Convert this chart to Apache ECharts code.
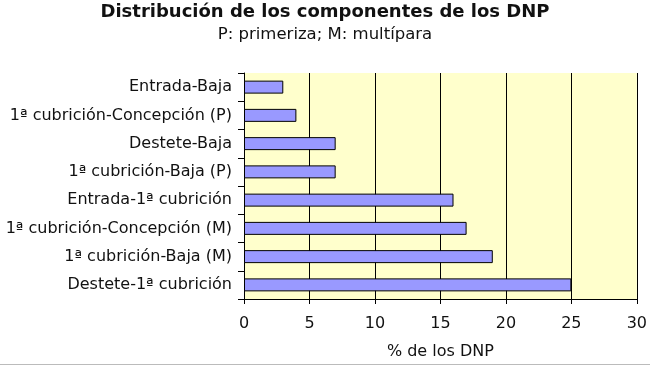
<!DOCTYPE html>
<html><head><meta charset="utf-8">
<script src="https://cdn.jsdelivr.net/npm/echarts@6/dist/echarts.min.js"></script>
<style>html,body{margin:0;padding:0;background:#fff}#c{width:650px;height:366px}</style>
</head><body><div id="c"></div>
<script>
var categories = ["Destete-1ª cubrición","1ª cubrición-Baja (M)","1ª cubrición-Concepción (M)","Entrada-1ª cubrición","1ª cubrición-Baja (P)","Destete-Baja","1ª cubrición-Concepción (P)","Entrada-Baja"];
var values = [25, 19, 17, 16, 7, 7, 4, 3];
var titleText = "Distribución de los componentes de los DNP";
var subtitleText = "P: primeriza; M: multípara";
var xAxisName = "% de los DNP";

var font = "DejaVu Sans";
var chart = echarts.init(document.getElementById('c'), null, {renderer:'canvas'});
chart.setOption({
  animation:false,
  backgroundColor:'#fff',
  title:[
    {text:titleText, left:'center', top:1, padding:0,
     textStyle:{fontFamily:font, fontSize:18, fontWeight:'bold', color:'#111', lineHeight:22}},
    {text:subtitleText, left:'center', top:25, padding:0,
     textStyle:{fontFamily:font, fontSize:16.5, fontWeight:'normal', color:'#111', lineHeight:20}}
  ],
  grid:{left:244, right:11, top:73, bottom:67, backgroundColor:'#FFFFCC', show:true, borderWidth:0},
  xAxis:{type:'value', min:0, max:30, interval:5, name:xAxisName, nameLocation:'middle', nameGap:45,
    nameTextStyle:{fontFamily:font, fontSize:16, color:'#111'},
    axisLine:{show:true, lineStyle:{color:'#000', width:1}},
    axisTick:{show:true, length:5, lineStyle:{color:'#000'}},
    axisLabel:{fontFamily:font, fontSize:16, color:'#111', margin:17},
    splitLine:{show:true, lineStyle:{color:'#000', width:1}}},
  yAxis:{type:'category', data:categories,
    axisLine:{show:true, lineStyle:{color:'#000', width:1}},
    axisTick:{show:true, length:6, alignWithLabel:false, lineStyle:{color:'#000'}},
    axisLabel:{fontFamily:font, fontSize:16, color:'#111', margin:12}},
  series:[{type:'bar', data:values, barWidth:'46%',
    itemStyle:{color:'#9999FF', borderColor:'#000', borderWidth:1}}],
  graphic:[{type:'line', shape:{x1:0,y1:364.5,x2:650,y2:364.5}, style:{stroke:'#bbb', lineWidth:1}}]
});
</script></body></html>
